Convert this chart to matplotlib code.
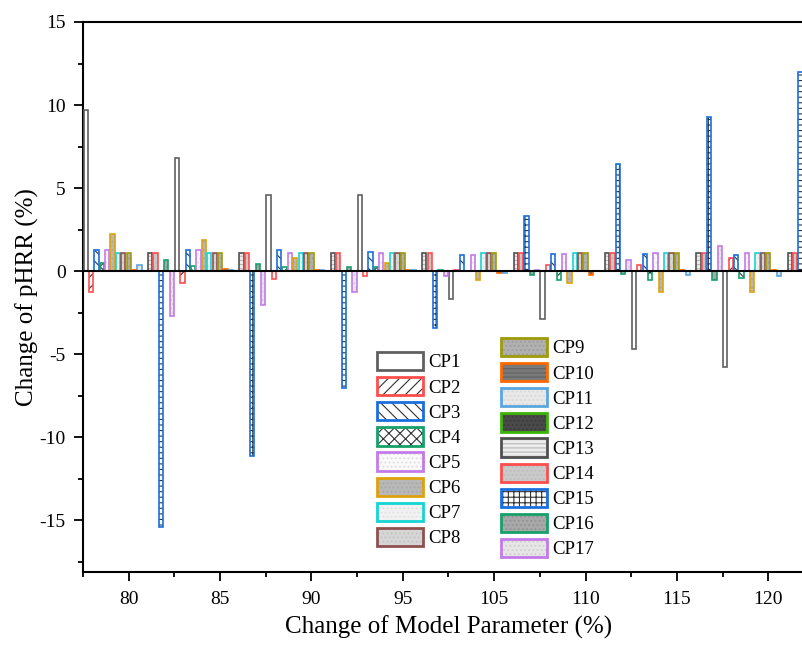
import numpy as np
import matplotlib
matplotlib.use("Agg")
import matplotlib.pyplot as plt
from matplotlib.patches import Patch
from matplotlib.legend_handler import HandlerTuple
from matplotlib.ticker import MultipleLocator

plt.rcParams['font.family'] = ['Liberation Serif', 'DejaVu Serif']
plt.rcParams['hatch.linewidth'] = 0.8
plt.rcParams['axes.unicode_minus'] = False

# parameter change levels on the x axis
params = ['80', '85', '90', '95', '105', '110', '115', '120']
labels = ['CP%d' % (i + 1) for i in range(17)]

# change of pHRR (%) for each model parameter at every level
cp1 = [9.7, 6.8, 4.6, 4.6, -1.7, -2.9, -4.7, -5.75]
cp2 = [-1.25, -0.7, -0.45, -0.3, 0.08, 0.4, 0.35, 0.8]
cp3 = [1.25, 1.3, 1.3, 1.15, 0.95, 1.05, 1.05, 1.0]
cp4 = [0.5, 0.3, 0.25, 0.25, 0.02, -0.5, -0.5, -0.4]
cp5 = [1.25, 1.25, 1.1, 1.1, 1.0, 1.05, 1.1, 1.1]
cp6 = [2.25, 1.9, 0.8, 0.5, -0.5, -0.7, -1.25, -1.25]
cp7 = [1.1, 1.1, 1.1, 1.1, 1.1, 1.1, 1.1, 1.1]
cp8 = [1.1, 1.1, 1.1, 1.1, 1.1, 1.1, 1.1, 1.1]
cp9 = [1.1, 1.1, 1.1, 1.1, 1.1, 1.1, 1.1, 1.1]
cp10 = [0.05, 0.15, 0.1, 0.05, -0.1, -0.25, 0.05, 0.05]
cp11 = [0.35, 0.08, 0.1, 0.05, -0.1, 0.02, -0.2, -0.27]
cp12 = [0.02, 0.02, 0.02, 0.02, 0.02, 0.02, 0.02, 0.02]
cp13 = [1.1, 1.1, 1.1, 1.1, 1.1, 1.1, 1.1, 1.1]
cp14 = [1.1, 1.1, 1.1, 1.1, 1.1, 1.1, 1.1, 1.1]
cp15 = [-15.4, -11.1, -7.0, -3.4, 3.3, 6.45, 9.3, 12.0]
cp16 = [0.65, 0.45, 0.27, 0.1, -0.2, -0.15, -0.5, -0.8]
cp17 = [-2.7, -2.05, -1.27, -0.3, 0.05, 0.7, 1.5, 1.6]
series = [cp1, cp2, cp3, cp4, cp5, cp6, cp7, cp8, cp9,
          cp10, cp11, cp12, cp13, cp14, cp15, cp16, cp17]

edge_colors = ['#606060', '#ff4d4d', '#1a6fdf', '#17a06a', '#c47ae8', '#dfa20e',
               '#14d4d4', '#8f5050', '#9e9a0a', '#ff6a00', '#5aa6e0', '#3cb40a',
               '#505050', '#ff4d4d', '#1a6fdf', '#17a06a', '#c47ae8']
fill_colors = ['white', 'white', 'white', 'white', '#fafafa', '#b8b8b8',
               '#f2f2f2', '#d6d6d6', '#b0b0b0', '#7a7a7a', '#e8e8e8', '#4a4a4a',
               '#ececec', '#cacaca', 'white', '#a8a8a8', '#e6e6e6']
hatch_colors = ['#333333', '#333333', '#333333', '#333333', '#dddddd', '#a6a6a6',
                '#e0e0e0', '#c4c4c4', '#9c9c9c', '#606060', '#d8d8d8', '#3a3a3a',
                '#b8b8b8', '#bcbcbc', '#333333', '#929292', '#cfcfcf']
hatches = [None, '///', '\\\\\\', 'xxx', '....', '....', '....', '....', '....',
           '----', '....', '....', '----', '....', '+++', '....', '....']

fig = plt.figure(figsize=(8.03, 6.46), dpi=100)
ax = fig.add_axes([83 / 803, 74 / 646, 731 / 803, 550 / 646])

x = np.arange(len(params))
slot = 1.0 / len(series)
width = slot * 0.8
for i, vals in enumerate(series):
    pos = x - 0.5 + slot * (i + 0.5)
    # fill + pattern, then coloured outline on top
    ax.bar(pos, vals, width, color=fill_colors[i], edgecolor=hatch_colors[i],
           hatch=hatches[i], linewidth=0, zorder=2)
    ax.bar(pos, vals, width, fill=False, edgecolor=edge_colors[i],
           linewidth=1.2, zorder=3)

ax.axhline(0, color='black', linewidth=1.5, zorder=4)

ax.set_xlim(-0.5, 7.5)
ax.set_ylim(-18.1, 15)
ax.set_xticks(x)
ax.set_xticklabels(params)
ax.xaxis.set_minor_locator(MultipleLocator(0.5))
ax.yaxis.set_major_locator(MultipleLocator(5))
ax.yaxis.set_minor_locator(MultipleLocator(2.5))
ax.tick_params(which='major', direction='out', length=6.5, width=1.3, labelsize=14, pad=6)
ax.tick_params(which='minor', direction='out', length=3.5, width=1.3)
ax.tick_params(axis='x', which='major', pad=7)
for s in ax.spines.values():
    s.set_linewidth(1.5)

ax.set_xlabel('Change of Model Parameter (%)', fontsize=18, labelpad=6)
ax.set_ylabel('Change of pHRR (%)', fontsize=18, labelpad=0)

handles = [(Patch(facecolor=fill_colors[i], edgecolor=hatch_colors[i], hatch=hatches[i], lw=0),
            Patch(facecolor='none', edgecolor=edge_colors[i], lw=2))
           for i in range(len(series))]
leg_kw = dict(handler_map={tuple: HandlerTuple(ndivide=1, pad=0)}, loc='upper left',
              bbox_transform=fig.transFigure, frameon=False, borderpad=0,
              borderaxespad=0, handlelength=2.45, handleheight=1.12,
              handletextpad=0.3, labelspacing=0.3, fontsize=13.5)
leg1 = ax.legend(handles[:8], labels[:8], bbox_to_anchor=(377 / 803, 1 - 352 / 646), **leg_kw)
ax.add_artist(leg1)
ax.legend(handles[8:], labels[8:], bbox_to_anchor=(501 / 803, 1 - 338 / 646), **leg_kw)

fig.savefig('out.png', dpi=100)
